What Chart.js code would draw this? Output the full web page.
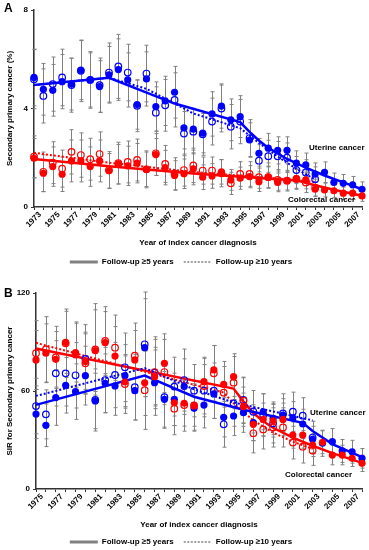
<!DOCTYPE html>
<html>
<head>
<meta charset="utf-8">
<script src="https://cdn.jsdelivr.net/npm/chart.js@4.4.0/dist/chart.umd.min.js"></script>
<style>
  html, body { margin: 0; padding: 0; background: #fff; overflow: hidden; }
  #wrap { position: relative; width: 369px; height: 550px; overflow: hidden; }
  canvas { position: absolute; left: 0; }
  .lbl { position: absolute; font: bold 8px "Liberation Sans", Arial, sans-serif; line-height: 10px; white-space: nowrap; color: #000; }
  .panel { position: absolute; font: bold 12px "Liberation Sans", Arial, sans-serif; line-height: 12px; color: #000; }
</style>
</head>
<body>
<div id="wrap">
  <canvas id="chartA" width="369" height="277" style="top:0"></canvas>
  <canvas id="chartB" width="369" height="287" style="top:270px"></canvas>
  <div class="panel" style="left:4px;top:2px">A</div>
  <div class="panel" style="left:4px;top:287px">B</div>
  <div class="lbl" style="left:309px;top:143px">Uterine cancer</div>
  <div class="lbl" style="left:288px;top:195px">Colorectal cancer</div>
  <div class="lbl" style="left:310px;top:408px">Uterine cancer</div>
  <div class="lbl" style="left:285px;top:470px">Colorectal cancer</div>
</div>
<script>
// ---- Panel A: secondary primary cancer (%) ----
var yearsA = [1973, 1974, 1975, 1976, 1977, 1978, 1979, 1980, 1981, 1982, 1983, 1984, 1985, 1986, 1987, 1988, 1989, 1990,
              1991, 1992, 1993, 1994, 1995, 1996, 1997, 1998, 1999, 2000, 2001, 2002, 2003, 2004, 2005, 2006, 2007, 2008];

var uterA5 = [5.26, 4.78, 4.74, 5.09, 4.99, 5.56, 5.16, 4.89, 5.37, 5.58,
              5.16, 4.16, 5.20, 4.08, 4.31, 4.66, 3.21, 3.16, 3.00, 3.78,
              4.10, 3.54, 3.67, 2.72, 2.18, 2.39, 2.30, 2.30, 1.78, 1.71,
              1.34, 1.41, 1.00, 0.96, 0.90, 0.72];
var uterA10 = [5.19, 4.51, 4.99, 5.26, 4.95, 5.53, 5.16, 4.95, 5.46, 5.71,
               5.46, 4.11, 5.42, 3.83, 4.13, 4.35, 2.98, 3.06, 2.95, 3.47,
               4.00, 3.26, 3.47, 2.80, 1.88, 2.06, 2.06, 2.00, 1.50, 1.40,
               1.13, null, null, null, null, null];
var colA5 = [1.98, 1.37, 1.64, 1.33, 1.87, 1.87, 1.64, 1.87, 1.47, 1.74,
             1.67, 1.78, 1.53, 2.13, 1.60, 1.28, 1.35, 1.55, 1.21, 1.26,
             1.43, 1.10, 1.17, 1.23, 1.03, 1.21, 1.00, 1.07, 1.14, 1.10,
             0.72, 0.69, 0.66, 0.56, 0.56, 0.45];
var colA10 = [2.04, 1.43, 1.80, 1.56, 2.24, 2.11, 1.94, 2.15, 1.50, 1.78,
              1.83, 1.91, 1.53, 2.18, 1.75, 1.35, 1.50, 1.69, 1.48, 1.48,
              1.37, 0.96, 1.34, 1.34, 1.21, 1.21, 1.10, 1.07, 1.14, 0.99,
              0.79, null, null, null, null, null];

// half width of the confidence bars
var errUA5 = [1.15, 1.05, 1.05, 1.1, 1.05, 1.2, 1.1, 1.05, 1.15, 1.25,
              1.1, 1.0, 1.1, 1.0, 1.0, 1.05, 0.85, 0.85, 0.8, 0.9,
              0.9, 0.85, 0.85, 0.7, 0.6, 0.6, 0.55, 0.55, 0.5, 0.48,
              0.45, 0.42, 0.38, 0.36, 0.34, 0.3];
var errUA10 = [1.2, 1.1, 1.1, 1.15, 1.1, 1.25, 1.15, 1.1, 1.2, 1.3,
               1.15, 1.05, 1.15, 1.05, 1.05, 1.1, 0.9, 0.9, 0.85, 0.95,
               0.95, 0.9, 0.9, 0.75, 0.65, 0.65, 0.6, 0.6, 0.55, 0.52,
               0.5, null, null, null, null, null];
var errCA5 = [0.8, 0.75, 0.8, 0.7, 0.85, 0.85, 0.8, 0.85, 0.7, 0.8,
              0.8, 0.8, 0.7, 0.85, 0.7, 0.6, 0.6, 0.65, 0.5, 0.5,
              0.5, 0.42, 0.45, 0.45, 0.4, 0.42, 0.38, 0.38, 0.38, 0.36,
              0.3, 0.28, 0.27, 0.25, 0.25, 0.22];
var errCA10 = [0.85, 0.8, 0.85, 0.75, 0.9, 0.9, 0.85, 0.9, 0.75, 0.85,
               0.85, 0.85, 0.75, 0.9, 0.75, 0.65, 0.65, 0.7, 0.55, 0.55,
               0.55, 0.45, 0.5, 0.5, 0.45, 0.45, 0.42, 0.42, 0.42, 0.4,
               0.34, null, null, null, null, null];

// joinpoint fits
var fitUA5x = [1973, 1981, 1988, 1995, 1996, 1997, 1998, 2000, 2002, 2004, 2006, 2008];
var fitUA5y = [4.95, 5.25, 4.2, 3.45, 3.05, 2.7, 2.4, 1.95, 1.6, 1.28, 1.0, 0.72];
var fitUA10x = [1973, 1981, 1985, 1990, 1995, 1997, 1999, 2001, 2003];
var fitUA10y = [4.95, 5.25, 4.8, 3.8, 3.2, 2.6, 2.05, 1.55, 1.12];
var fitCA5x = [1973, 1981, 1990, 2001, 2003, 2005, 2008];
var fitCA5y = [1.95, 1.65, 1.36, 1.08, 0.88, 0.7, 0.46];
var fitCA10x = [1973, 1981, 1990, 1997, 2003];
var fitCA10y = [2.2, 1.8, 1.42, 1.22, 1.02];

// ---- Panel B: SIR ----
var yearsB = [1975, 1976, 1977, 1978, 1979, 1980, 1981, 1982, 1983, 1984, 1985, 1986, 1987, 1988, 1989, 1990, 1991,
              1992, 1993, 1994, 1995, 1996, 1997, 1998, 1999, 2000, 2001, 2002, 2003, 2004, 2005, 2006, 2007, 2008];

var uterB5 = [45.9, 39.0, 56.0, 63.5, 59.6, 69.4, 53.9, 64.7, 63.1, 69.4,
              60.2, 86.5, 65.1, 54.9, 54.9, 62.7, 49.4, 51.4, 58.2, 43.9,
              44.7, 46.7, 40.6, 47.3, 43.3, 45.3, 43.5, 39.8, 30.4, 28.0,
              29.0, 23.3, 22.8, 18.8];
var uterB10 = [50.8, 45.7, 70.8, 70.8, 69.6, 79.6, 54.5, 66.7, 69.8, 74.5,
               62.3, 88.6, 71.2, 56.2, 62.7, 66.7, 60.2, 60.2, 60.2, 39.6,
               52.4, 54.5, 47.3, 45.3, 40.2, 46.3, 47.3, 44.9, 31.5,
               null, null, null, null, null];
var colB5 = [79.0, 83.1, 79.4, 89.8, 83.5, 78.0, 84.7, 89.6, 81.4, 65.5,
             79.0, 65.0, 68.8, 77.0, 52.8, 52.5, 51.4, 65.7, 72.9, 64.1,
             68.8, 50.4, 39.6, 42.6, 41.8, 42.6, 33.0, 33.0, 26.9, 28.6,
             20.8, 20.8, 18.8, 15.7];
var colB10 = [83.1, 85.5, 80.6, 89.2, 82.3, 77.0, 85.5, 90.6, 86.5, 64.3,
              81.6, 60.5, 71.6, 71.6, 49.2, 51.4, 51.0, 63.0, 70.8, 59.0,
              65.1, 54.1, 34.1, 36.5, 37.7, 37.7, 28.4, 25.9, 23.5,
              null, null, null, null, null];

var errUB5 = [15, 13, 17, 17, 17, 18, 17, 18, 18, 19, 18, 30, 20, 17, 16, 17, 14,
              14, 15, 12, 12, 12, 11, 11, 10, 10, 10, 9, 8, 8, 8, 7, 7, 6];
var errUB10 = [17, 15, 20, 20, 20, 21, 19, 20, 20, 21, 20, 32, 22, 19, 18, 19, 16,
               16, 17, 14, 14, 14, 13, 13, 12, 12, 12, 11, 10, null, null, null, null, null];
var errCB5 = [18, 18, 17, 19, 18, 17, 25, 19, 18, 16, 18, 20, 18, 18, 14, 14, 13,
              15, 15, 14, 14, 12, 10, 10, 10, 10, 8, 8, 7, 7, 6, 6, 5, 5];
var errCB10 = [20, 20, 19, 21, 20, 19, 28, 21, 20, 18, 20, 24, 20, 20, 16, 16, 15,
               17, 17, 16, 16, 14, 12, 12, 12, 12, 10, 10, 9, null, null, null, null, null];

var fitUB5x = [1975, 1986, 1991, 1996, 2002, 2003, 2005, 2008];
var fitUB5y = [51.5, 69.5, 56.5, 48.5, 40.5, 35.5, 27.5, 19.5];
var fitUB10x = [1975, 1986, 1991, 1995, 2003];
var fitUB10y = [57, 74, 61, 53, 42];
var fitCB5x = [1975, 1995, 1996, 1997, 1998, 1999, 2001, 2003, 2005, 2008];
var fitCB5y = [86, 61.5, 53.5, 46.5, 41.5, 37.5, 31.5, 26.5, 22, 16];
var fitCB10x = [1975, 1994, 1995, 1997, 1999, 2001, 2003];
var fitCB10y = [89.5, 59, 52.5, 42, 34.5, 29, 24.5];

var BLUE = '#0000ff', RED = '#ff0000', GREY = '#808080';
var FONT = '"Liberation Sans", Arial, sans-serif';

Chart.defaults.font.family = FONT;
Chart.defaults.font.weight = 'bold';
Chart.defaults.font.size = 8;
Chart.defaults.color = '#000';

function xy(xs, ys) {
    return xs.map(function (x, i) { return { x: x, y: ys[i] }; });
}

// grey confidence bars drawn under the markers
var errorBars = {
    id: 'errorBars',
    beforeDatasetsDraw: function (chart) {
        var ctx = chart.ctx, ys = chart.scales.y;
        ctx.save();
        ctx.strokeStyle = GREY;
        ctx.lineWidth = 1;
        chart.data.datasets.forEach(function (ds, i) {
            if (!ds.errs) return;
            var meta = chart.getDatasetMeta(i);
            meta.data.forEach(function (el, j) {
                var v = ds.data[j].y, e = ds.errs[j];
                if (v == null || e == null) return;
                var x = Math.round(el.x) + 0.5;
                var t = ys.getPixelForValue(v + e), b = ys.getPixelForValue(v - e);
                ctx.beginPath();
                ctx.moveTo(x, t); ctx.lineTo(x, b);
                ctx.moveTo(x - 2, t); ctx.lineTo(x + 2, t);
                ctx.moveTo(x - 2, b); ctx.lineTo(x + 2, b);
                ctx.stroke();
            });
        });
        ctx.restore();
    }
};

function pointSet(data, errs, color, open) {
    return {
        data: data, errs: errs, showLine: false, clip: false,
        pointRadius: open ? 3.3 : 3.6,
        pointBorderWidth: open ? 1.2 : 0,
        pointBorderColor: color,
        pointBackgroundColor: open ? 'rgba(0,0,0,0)' : color
    };
}

function lineSet(data, color, dotted) {
    return {
        data: data, showLine: true, clip: false, pointRadius: 0, tension: 0,
        borderColor: color, borderWidth: dotted ? 2 : 2.5,
        borderDash: dotted ? [2, 2] : []
    };
}

function makeChart(id, o) {
    return new Chart(document.getElementById(id), {
        type: 'scatter',
        data: {
            datasets: [
                pointSet(xy(o.years, o.c5), o.ec5, RED, false),
                pointSet(xy(o.years, o.c10), o.ec10, RED, true),
                pointSet(xy(o.years, o.u5), o.eu5, BLUE, false),
                pointSet(xy(o.years, o.u10), o.eu10, BLUE, true),
                lineSet(xy(o.fu5x, o.fu5y), BLUE, false),
                lineSet(xy(o.fu10x, o.fu10y), BLUE, true),
                lineSet(xy(o.fc5x, o.fc5y), RED, false),
                lineSet(xy(o.fc10x, o.fc10y), RED, true)
            ]
        },
        options: {
            responsive: false,
            animation: false,
            events: [],
            layout: { padding: { top: o.padTop, right: 7, bottom: 1, left: 0 } },
            plugins: {
                tooltip: { enabled: false },
                legend: {
                    position: 'bottom',
                    labels: {
                        usePointStyle: true,
                        pointStyleWidth: 28,
                        padding: 10,
                        font: { size: 8, weight: 'bold' },
                        generateLabels: function () {
                            return [
                                { text: 'Follow-up ≥5 years', pointStyle: 'line', strokeStyle: GREY, fillStyle: GREY, lineWidth: 3, lineDash: [] },
                                { text: 'Follow-up ≥10 years', pointStyle: 'line', strokeStyle: '#a0a0a0', fillStyle: GREY, lineWidth: 2, lineDash: [2, 1.5] }
                            ];
                        }
                    }
                }
            },
            scales: {
                x: {
                    type: 'linear',
                    min: o.years[0],
                    max: o.years[o.years.length - 1],
                    afterFit: function (s) { s.height = o.xHeight; },
                    ticks: {
                        stepSize: 1, maxTicksLimit: 60, autoSkip: false,
                        minRotation: 45, maxRotation: 45, labelOffset: 6, padding: 0,
                        callback: function (v) { return v % 2 === 1 ? String(v) : ''; }
                    },
                    grid: { drawOnChartArea: false, drawTicks: true, tickLength: 3, color: '#333' },
                    border: { color: '#333', width: 1.5 },
                    title: { display: true, text: 'Year of index cancer diagnosis', padding: { top: 0, bottom: o.titlePad } }
                },
                y: {
                    min: 0, max: o.yMax,
                    afterFit: function (s) { s.width = o.yWidth; },
                    ticks: { stepSize: o.yStep, padding: 3 },
                    grid: { drawOnChartArea: false, drawTicks: true, tickLength: 3, color: '#333' },
                    border: { color: '#333', width: 1.5 },
                    title: { display: true, text: o.yTitle, padding: { top: 5, bottom: 0 } }
                }
            }
        },
        plugins: [errorBars]
    });
}

makeChart('chartA', {
    years: yearsA, u5: uterA5, u10: uterA10, c5: colA5, c10: colA10,
    eu5: errUA5, eu10: errUA10, ec5: errCA5, ec10: errCA10,
    fu5x: fitUA5x, fu5y: fitUA5y, fu10x: fitUA10x, fu10y: fitUA10y,
    fc5x: fitCA5x, fc5y: fitCA5y, fc10x: fitCA10x, fc10y: fitCA10y,
    yMax: 8, yStep: 4, yTitle: 'Secondary primary cancer (%)',
    padTop: 10, xHeight: 41, yWidth: 34, titlePad: 0
});

makeChart('chartB', {
    years: yearsB, u5: uterB5, u10: uterB10, c5: colB5, c10: colB10,
    eu5: errUB5, eu10: errUB10, ec5: errCB5, ec10: errCB10,
    fu5x: fitUB5x, fu5y: fitUB5y, fu10x: fitUB10x, fu10y: fitUB10y,
    fc5x: fitCB5x, fc5y: fitCB5y, fc10x: fitCB10x, fc10y: fitCB10y,
    yMax: 120, yStep: 60, yTitle: 'SIR for Secondary primary cancer',
    padTop: 23, xHeight: 39, yWidth: 36, titlePad: -1.8
});
</script>
</body>
</html>
